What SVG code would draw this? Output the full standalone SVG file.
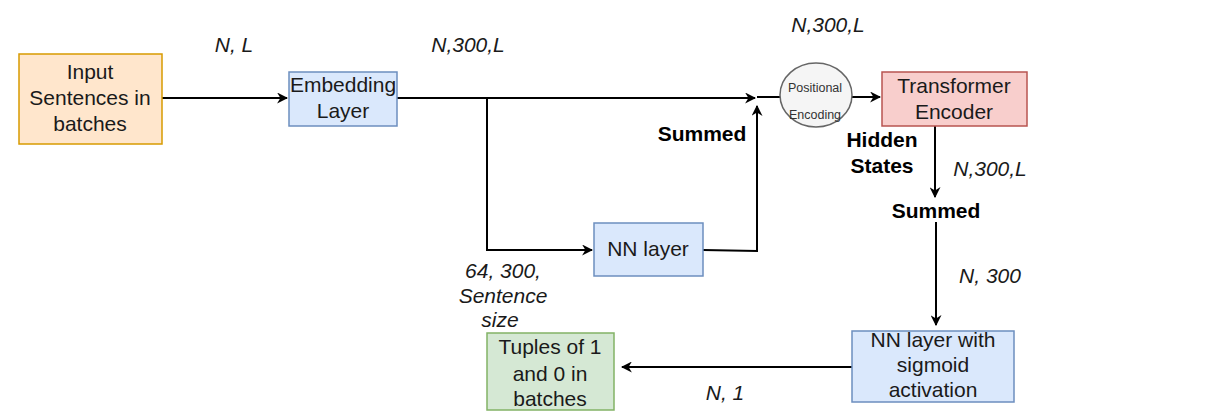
<svg xmlns="http://www.w3.org/2000/svg" width="1226" height="420" viewBox="0 0 1226 420">
<style>
text{font-family:"Liberation Sans",Arial,sans-serif;font-size:21px;fill:#1a1a1a;text-anchor:middle}
.it{font-style:italic}
.b{font-weight:bold;fill:#000}
.sm{font-size:12.5px;fill:#333}
.ln{fill:none;stroke:#000;stroke-width:2}
</style>
<defs>
<marker id="ah" viewBox="0 0 10 10" refX="9" refY="5" markerWidth="11" markerHeight="11" markerUnits="userSpaceOnUse" orient="auto">
<path d="M0,0 L10,5 L0,10 L3,5 Z" fill="#000"/>
</marker>
</defs>
<rect width="1226" height="420" fill="#fff"/>
<g id="connectors">
<path class="ln" d="M162,98 H287" marker-end="url(#ah)"/>
<path class="ln" d="M397,98 H755" marker-end="url(#ah)"/>
<path class="ln" d="M487,98 V250 H592" marker-end="url(#ah)"/>
<path class="ln" d="M703,250 L757,251 V106" marker-end="url(#ah)"/>
<path class="ln" d="M757,97 L780,97" stroke-width="1.5"/>
<path class="ln" d="M852,97 H880" marker-end="url(#ah)"/>
<path class="ln" d="M935,126 V197" marker-end="url(#ah)"/>
<path class="ln" d="M936,222 V325" marker-end="url(#ah)"/>
<path class="ln" d="M852,367 H622" marker-end="url(#ah)"/>
</g>
<g id="input">
<rect x="19" y="54" width="143" height="90" fill="#ffe6cc" stroke="#d79b00" stroke-width="1.5"/>
<text x="90" y="79">Input</text>
<text x="90" y="105">Sentences in</text>
<text x="90" y="131">batches</text>
</g>
<g id="embedding">
<rect x="289" y="72" width="108" height="54" fill="#dae8fc" stroke="#6c8ebf" stroke-width="1.5"/>
<text x="343" y="92">Embedding</text>
<text x="343" y="118">Layer</text>
</g>
<g id="nnlayer">
<rect x="594" y="223" width="109" height="53" fill="#dae8fc" stroke="#6c8ebf" stroke-width="1.5"/>
<text x="648" y="256">NN layer</text>
</g>
<g id="posenc">
<ellipse cx="816" cy="95" rx="36" ry="32" fill="#f5f5f5" stroke="#666" stroke-width="1.5"/>
<text class="sm" x="815" y="92">Positional</text>
<text class="sm" x="815" y="119">Encoding</text>
</g>
<g id="transformer">
<rect x="882" y="72" width="145" height="54" fill="#f8cecc" stroke="#b85450" stroke-width="1.5"/>
<text x="954" y="93">Transformer</text>
<text x="954" y="119">Encoder</text>
</g>
<g id="sigmoid">
<rect x="852" y="331" width="162" height="71" fill="#dae8fc" stroke="#6c8ebf" stroke-width="1.5"/>
<text x="933" y="347">NN layer with</text>
<text x="933" y="372">sigmoid</text>
<text x="933" y="397">activation</text>
</g>
<g id="tuples">
<rect x="487" y="333" width="127" height="77" fill="#d5e8d4" stroke="#82b366" stroke-width="1.5"/>
<text x="550" y="354">Tuples of 1</text>
<text x="550" y="381">and 0 in</text>
<text x="550" y="406">batches</text>
</g>
<g id="labels">
<text class="it" x="234" y="52">N, L</text>
<text class="it" x="468" y="52">N,300,L</text>
<text class="it" x="828" y="32">N,300,L</text>
<text class="b" x="702" y="141">Summed</text>
<text class="b" x="882" y="147">Hidden</text>
<text class="b" x="882" y="173">States</text>
<text class="it" x="990" y="176">N,300,L</text>
<text class="b" x="936" y="218">Summed</text>
<text class="it" x="990" y="283">N, 300</text>
<text class="it" x="503" y="278">64, 300,</text>
<text class="it" x="503" y="303">Sentence</text>
<text class="it" x="500" y="327">size</text>
<text class="it" x="725" y="400">N, 1</text>
</g>
</svg>
